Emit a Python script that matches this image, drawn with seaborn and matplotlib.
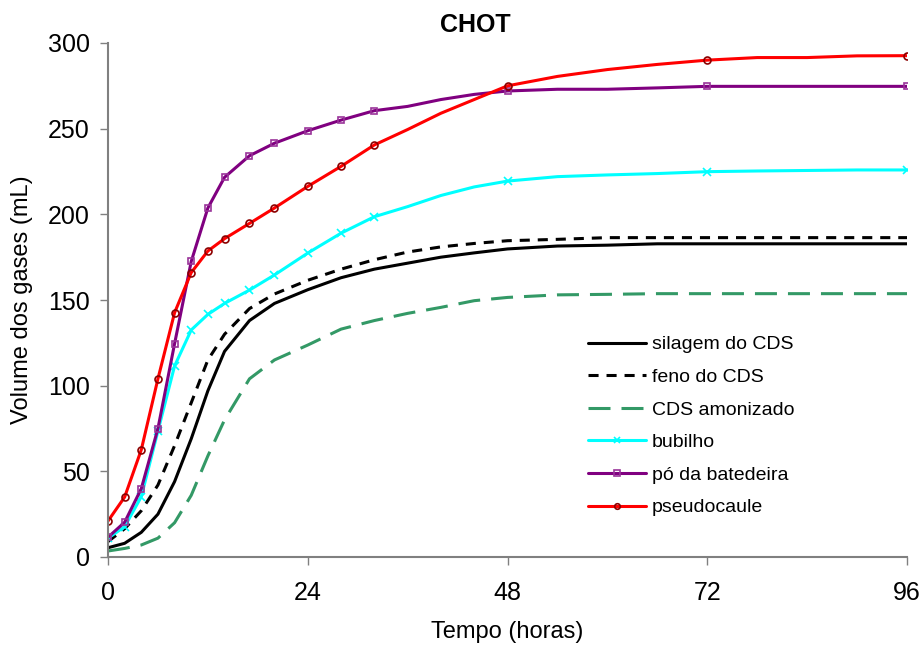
import matplotlib
matplotlib.use("Agg")
import matplotlib.pyplot as plt
from matplotlib.lines import Line2D
import seaborn as sns
import pandas as pd

# ---------------- data ----------------
horas = [0, 2, 4, 6, 8, 10, 12, 14, 17, 20, 24, 28, 32, 36, 40, 44, 48,
         54, 60, 66, 72, 78, 84, 90, 96]
marker_horas = [0, 2, 4, 6, 8, 10, 12, 14, 17, 20, 24, 28, 32, 48, 72, 96]

silagem = [5.4, 8, 14.4, 25, 44, 69, 97, 120, 138, 148, 156, 163, 168, 171.5,
           175, 177.5, 179.8, 181.5, 182, 182.8, 182.8, 182.8, 182.8, 182.8, 182.8]
feno = [9, 16.5, 27, 42, 65, 90, 115, 130, 145, 153.5, 161.5, 168, 173.5, 178,
        181, 183, 184.6, 185.4, 186.4, 186.4, 186.4, 186.4, 186.4, 186.4, 186.4]
amonizado = [3.5, 5, 7, 11, 20, 36, 59, 80, 104, 115, 123.7, 133, 138, 142.2,
             145.7, 149.6, 151.5, 153, 153.3, 153.7, 153.7, 153.7, 153.7, 153.7, 153.7]
bubilho = [11, 17.7, 35.2, 73.5, 111.5, 132.5, 141.6, 148, 155.8, 164.6, 177.4,
           189, 198.6, 204.5, 211, 216, 219.4, 222, 223, 223.8, 224.9, 225.3,
           225.6, 225.9, 225.9]
po_batedeira = [11.5, 20.3, 39.9, 75, 124.5, 172.5, 203.7, 221.6, 234.2, 241.5,
                248.8, 255, 260.5, 263, 267, 270, 272, 273, 273, 273.8, 274.7,
                274.7, 274.7, 274.7, 274.7]
pseudocaule = [21, 35, 62.6, 104, 142.6, 166, 178.6, 185.8, 194.7, 203.7, 216.3,
               228, 240.5, 249.5, 259, 267, 275, 280.5, 284.5, 287.5, 290, 291.5,
               291.5, 292.5, 292.6]

series_names = ["silagem do CDS", "feno do CDS", "CDS amonizado", "bubilho",
                "pó da batedeira", "pseudocaule"]
series_values = [silagem, feno, amonizado, bubilho, po_batedeira, pseudocaule]

x_ticks = [0, 24, 48, 72, 96]
y_ticks = [0, 50, 100, 150, 200, 250, 300]

# ---------------- style ----------------
sns.set_style("white")
plt.rcParams["font.family"] = ["Liberation Sans", "DejaVu Sans"]
plt.rcParams["text.color"] = "black"

styles = {
    "silagem do CDS": dict(color="black", dashes=None, marker=None),
    "feno do CDS": dict(color="black", dashes=(3.3, 2.6), marker=None),
    "CDS amonizado": dict(color="#339966", dashes=(7.2, 3.6), marker=None),
    "bubilho": dict(color="#00FFFF", dashes=None, marker="x",
                    mec="#00FFFF", mfc="none", ms=6),
    "pó da batedeira": dict(color="#800080", dashes=None, marker="s",
                            mec="#993399", mfc="none", ms=5),
    "pseudocaule": dict(color="#FF0000", dashes=None, marker="o",
                        mec="#8B0000", mfc="none", ms=5),
}

fig = plt.figure(figsize=(9.23, 6.46), dpi=100)
ax = fig.add_axes([108 / 923, 1 - 557 / 646, (907 - 108) / 923, (557 - 43) / 646])

rows = []
for name, vals in zip(series_names, series_values):
    for h, v in zip(horas, vals):
        rows.append({"Tempo": h, "Volume": v, "serie": name})
df = pd.DataFrame(rows)

LW = 2.2
handles = []
for name in series_names:
    st = styles[name]
    sub = df[df["serie"] == name]
    sns.lineplot(data=sub, x="Tempo", y="Volume", ax=ax, color=st["color"],
                 lw=LW, legend=False, sort=True)
    line = ax.get_lines()[-1]
    if st["dashes"] is not None:
        line.set_dashes(st["dashes"])
    if st["marker"] is not None:
        msub = sub[sub["Tempo"].isin(marker_horas)]
        ax.plot(msub["Tempo"], msub["Volume"], ls="none", marker=st["marker"],
                ms=st["ms"], mec=st["mec"], mfc=st["mfc"], mew=1.2)
        handles.append(Line2D([0], [0], color=st["color"], lw=LW, marker=st["marker"],
                              ms=st["ms"] - 1, mec=st["mec"], mfc=st["mfc"], mew=1.2))
    else:
        hl = Line2D([0], [0], color=st["color"], lw=LW)
        if st["dashes"] is not None:
            hl.set_dashes(st["dashes"])
        handles.append(hl)

ax.set_xlim(0, 96)
ax.set_ylim(0, 300)
ax.set_xticks(x_ticks)
ax.set_yticks(y_ticks)
ax.tick_params(axis="both", labelsize=18, direction="out", length=6,
               width=1, color="#808080", labelcolor="black", left=True, bottom=True)
ax.tick_params(axis="y", pad=7)
ax.tick_params(axis="x", pad=11)
for s in ["top", "right"]:
    ax.spines[s].set_visible(False)
for s in ["left", "bottom"]:
    ax.spines[s].set_color("#808080")
    ax.spines[s].set_linewidth(1.5)
ax.set_xlabel("")
ax.set_ylabel("")

fig.text(507 / 923, 1 - 632 / 646, "Tempo (horas)", ha="center", va="center",
         fontsize=17, color="black")
fig.text(22 / 923, 1 - 300 / 646, "Volume dos gases (mL)", ha="center", va="center",
         rotation=90, fontsize=17, color="black")
fig.text(475 / 923, 1 - 25 / 646, "CHOT", ha="center", va="center", fontsize=18,
         fontweight="bold", color="black")

leg = ax.legend(handles, series_names, loc="upper left",
                bbox_to_anchor=(580 / 923, 1 - 328 / 646), bbox_transform=fig.transFigure,
                frameon=False, fontsize=14, handlelength=3.0, handletextpad=0.3,
                labelspacing=0.77, borderaxespad=0, labelcolor="black")

fig.savefig("out.png", dpi=100)
